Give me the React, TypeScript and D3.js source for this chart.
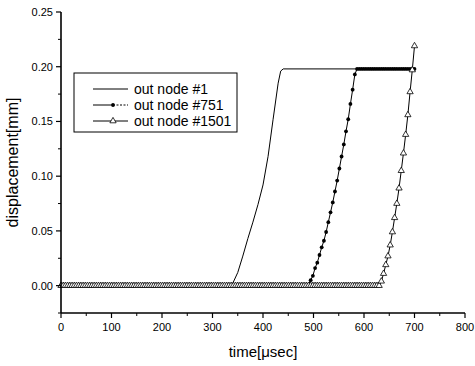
import React from "react";
import * as d3 from "d3";

// ---- data ----
const X_TICKS = [0, 100, 200, 300, 400, 500, 600, 700, 800];
const Y_TICKS = [0.0, 0.05, 0.1, 0.15, 0.2, 0.25];
const LEGEND_LABELS = ["out node #1", "out node #751", "out node #1501"];

// out node #1 (line only)
const node1Times = [0, 335, 340, 350, 360, 370, 380, 390, 400, 410, 420, 430, 435, 440, 700];
const node1Values = [0, 0, 0.002, 0.012, 0.027, 0.043, 0.058, 0.074, 0.092, 0.118, 0.152, 0.185, 0.196, 0.198, 0.198];

// sampling grid of the marked series (161 samples over 0..700 usec)
const sampleTimes = d3.range(0, 161).map((i) => (i * 700) / 160);

// out node #751
const node751Values = [
  0,0,0,0,0,0,0,0,0,0,0,0,0,0,0,0,
  0,0,0,0,0,0,0,0,0,0,0,0,0,0,0,0,
  0,0,0,0,0,0,0,0,0,0,0,0,0,0,0,0,
  0,0,0,0,0,0,0,0,0,0,0,0,0,0,0,0,
  0,0,0,0,0,0,0,0,0,0,0,0,0,0,0,0,
  0,0,0,0,0,0,0,0,0,0,0,0,0,0,0,0,
  0,0,0,0,0,0,0,0,0,0,0,0,0,0,0,0,
  0.001, 0.005, 0.009, 0.016, 0.021, 0.028, 0.035, 0.041, 0.049, 0.058, 0.067,
  0.076, 0.086, 0.096, 0.107, 0.118, 0.129, 0.141, 0.152, 0.166, 0.179, 0.193,
  0.198,0.198,0.198,0.198,0.198,0.198,0.198,0.198,0.198,0.198,0.198,0.198,0.198,0.198,
  0.198,0.198,0.198,0.198,0.198,0.198,0.198,0.198,0.198,0.198,0.198,0.198,0.198,
];

// out node #1501
const node1501Values = [
  0,0,0,0,0,0,0,0,0,0,0,0,0,0,0,0,
  0,0,0,0,0,0,0,0,0,0,0,0,0,0,0,0,
  0,0,0,0,0,0,0,0,0,0,0,0,0,0,0,0,
  0,0,0,0,0,0,0,0,0,0,0,0,0,0,0,0,
  0,0,0,0,0,0,0,0,0,0,0,0,0,0,0,0,
  0,0,0,0,0,0,0,0,0,0,0,0,0,0,0,0,
  0,0,0,0,0,0,0,0,0,0,0,0,0,0,0,0,
  0,0,0,0,0,0,0,0,0,0,0,0,0,0,0,0,
  0,0,0,0,0,0,0,0,0,0,0,0,0,0,0,0,
  0,
  0.004, 0.011, 0.019, 0.027, 0.037, 0.049, 0.062, 0.075,
  0.089, 0.105, 0.121, 0.138, 0.156, 0.177, 0.197, 0.219,
];

const W = 475;
const H = 366;
const FONT = "'Liberation Sans', Arial, sans-serif";

export default function App() {
  const x = d3.scaleLinear().domain([0, 800]).range([61, 465]);
  const y = d3.scaleLinear().domain([-0.025, 0.25]).range([313, 12]);

  const line = d3
    .line<[number, number]>()
    .x((d) => x(d[0]))
    .y((d) => y(d[1]));

  const s1 = node1Times.map((t, i) => [t, node1Values[i]] as [number, number]);
  const s2 = sampleTimes.map((t, i) => [t, node751Values[i]] as [number, number]);
  const s3 = sampleTimes.map((t, i) => [t, node1501Values[i]] as [number, number]);

  const tri = d3.symbol().type(d3.symbolTriangle).size(17)() as string;

  const xMinor = d3.range(50, 800, 100);
  const yMinor = [-0.025, 0.025, 0.075, 0.125, 0.175, 0.225];

  const legX = 74;
  const legRows = [89, 105, 121];

  return (
    <svg
      width={W}
      height={H}
      style={{ position: "absolute", left: 0, top: 0, background: "#fff" }}
      fontFamily={FONT}
    >
      <rect x={0} y={0} width={W} height={H} fill="#fff" />

      {/* series */}
      <path d={line(s1) || ""} fill="none" stroke="#000" strokeWidth={1} />
      <path d={line(s2) || ""} fill="none" stroke="#000" strokeWidth={1} />
      {s2.map((d, i) => (
        <circle key={"c" + i} cx={x(d[0])} cy={y(d[1])} r={1.9} fill="#000" />
      ))}
      <path d={line(s3) || ""} fill="none" stroke="#000" strokeWidth={1} />
      {s3.map((d, i) => (
        <path
          key={"t" + i}
          d={tri}
          transform={`translate(${x(d[0])},${y(d[1])})`}
          fill="#fff"
          stroke="#000"
          strokeWidth={0.8}
        />
      ))}

      {/* axes */}
      <line x1={x(0)} x2={x(800)} y1={313} y2={313} stroke="#000" strokeWidth={1.6} />
      <line x1={61} x2={61} y1={y(0.25)} y2={313} stroke="#000" strokeWidth={1.6} />

      {X_TICKS.map((t) => (
        <g key={"xt" + t}>
          <line x1={x(t)} x2={x(t)} y1={313} y2={318} stroke="#000" strokeWidth={1.2} />
          <text x={x(t)} y={331} fontSize={11} textAnchor="middle" fill="#000">
            {t}
          </text>
        </g>
      ))}
      {xMinor.map((t) => (
        <line key={"xm" + t} x1={x(t)} x2={x(t)} y1={313} y2={316} stroke="#000" strokeWidth={1} />
      ))}

      {Y_TICKS.map((v) => (
        <g key={"yt" + v}>
          <line x1={56} x2={61} y1={y(v)} y2={y(v)} stroke="#000" strokeWidth={1.2} />
          <text x={53} y={y(v) + 4} fontSize={11} textAnchor="end" fill="#000">
            {v.toFixed(2)}
          </text>
        </g>
      ))}
      {yMinor.map((v) => (
        <line key={"ym" + v} x1={58} x2={61} y1={y(v)} y2={y(v)} stroke="#000" strokeWidth={1} />
      ))}

      <text x={263} y={357} fontSize={15} textAnchor="middle" fill="#000">
        time[μsec]
      </text>
      <text
        transform={`translate(18,${(12 + 313) / 2}) rotate(-90)`}
        fontSize={16}
        textAnchor="middle"
        fill="#000"
      >
        displacement[mm]
      </text>

      {/* legend */}
      <rect x={legX} y={73} width={163} height={59} fill="#fff" stroke="#000" strokeWidth={1} />
      <line x1={93} x2={128} y1={legRows[0]} y2={legRows[0]} stroke="#000" strokeWidth={1} />
      <line x1={93} x2={113} y1={legRows[1]} y2={legRows[1]} stroke="#000" strokeWidth={1} />
      <line x1={113} x2={128} y1={legRows[1]} y2={legRows[1]} stroke="#000" strokeWidth={1} strokeDasharray="2,1.5" />
      <circle cx={113} cy={legRows[1]} r={1.9} fill="#000" />
      <line x1={93} x2={128} y1={legRows[2]} y2={legRows[2]} stroke="#000" strokeWidth={1} />
      <path d={tri} transform={`translate(113,${legRows[2]})`} fill="#fff" stroke="#000" strokeWidth={0.8} />
      {LEGEND_LABELS.map((l, i) => (
        <text key={l} x={134} y={legRows[i] + 5} fontSize={14} fill="#000">
          {l}
        </text>
      ))}
    </svg>
  );
}
